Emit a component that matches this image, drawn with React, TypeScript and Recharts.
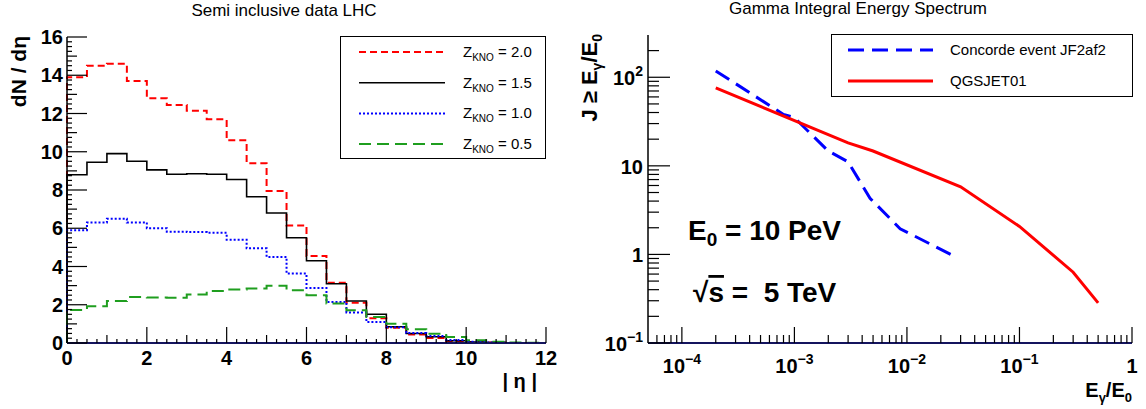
import React from 'react';
import { LineChart, Line, XAxis, YAxis, Legend } from 'recharts';

// left panel: |eta| bins (low edges, width 0.5)
const ETA_BINS = [0, 0.5, 1, 1.5, 2, 2.5, 3, 3.5, 4, 4.5, 5, 5.5, 6, 6.5, 7, 7.5, 8, 8.5, 9, 9.5, 10, 10.5, 11, 11.5];
const Z20 = [13.9, 14.5, 14.6, 13.7, 12.8, 12.45, 12.15, 11.7, 10.6, 9.4, 7.95, 6.15, 4.55, 3.15, 2.1, 1.3, 0.8, 0.45, 0.26, 0.11, 0.05, 0.02, 0, 0];
const Z15 = [8.8, 9.45, 9.9, 9.5, 9.05, 8.82, 8.85, 8.82, 8.55, 7.65, 6.8, 5.5, 4.3, 3.1, 2.2, 1.5, 0.85, 0.5, 0.33, 0.12, 0.05, 0.02, 0, 0];
const Z10 = [5.9, 6.3, 6.5, 6.3, 6.0, 5.82, 5.8, 5.76, 5.4, 4.95, 4.5, 3.63, 2.88, 2.15, 1.6, 1.1, 0.82, 0.52, 0.37, 0.16, 0.06, 0.03, 0, 0];
const Z05 = [1.72, 1.92, 2.2, 2.4, 2.38, 2.37, 2.53, 2.72, 2.8, 2.85, 3.0, 2.76, 2.5, 2.06, 1.71, 1.36, 1.01, 0.72, 0.49, 0.31, 0.15, 0.07, 0.02, 0.01];

// right panel: integral spectra
const CONCORDE_E = [2e-4, 8e-4, 1e-3, 2e-3, 3e-3, 4.7e-3, 8.7e-3, 2.45e-2];
const CONCORDE_J = [118, 38, 35, 14.7, 11.1, 4.3, 1.95, 1.0];
const QGS_E = [2e-4, 3e-3, 5e-3, 3e-2, 0.1, 0.3, 0.5];
const QGS_J = [76, 18.2, 14.7, 5.8, 2.07, 0.63, 0.284];

const HIST = [
  { key: 'z20', label: '2.0', color: '#ff0000', dash: '7 4', width: 2 },
  { key: 'z15', label: '1.5', color: '#000000', dash: undefined, width: 1.6 },
  { key: 'z10', label: '1.0', color: '#0000ff', dash: '2 2', width: 2 },
  { key: 'z05', label: '0.5', color: '#1f9e1f', dash: '12 6', width: 2 },
];

const FONT = '"Liberation Sans", Arial, Helvetica, sans-serif';
const TICK_FONT = { fontFamily: FONT, fontWeight: 700, fontSize: 20, fill: '#000' } as const;

// step rows: start at 0, one row per bin, close at 12
const last = ETA_BINS.length - 1;
const histRows = [
  { eta: 0, z20: 0, z15: 0, z10: 0, z05: 0 },
  ...ETA_BINS.map((eta, i) => ({ eta, z20: Z20[i], z15: Z15[i], z10: Z10[i], z05: Z05[i] })),
  { eta: 12, z20: Z20[last], z15: Z15[last], z10: Z10[last], z05: Z05[last] },
];
const concordeRows = CONCORDE_E.map((e, i) => ({ e, j: CONCORDE_J[i] }));
const qgsRows = QGS_E.map((e, i) => ({ e, j: QGS_J[i] }));

const ETA_TICKS = Array.from({ length: 49 }, (_, i) => i * 0.25);
const DN_TICKS = Array.from({ length: 65 }, (_, i) => i * 0.25);

const logTicks = (lo: number, hi: number) => {
  const out: number[] = [];
  for (let e = lo; e < hi; e++) for (let m = 1; m < 10; m++) out.push(m * Math.pow(10, e));
  out.push(Math.pow(10, hi));
  return out;
};
const E_TICKS = logTicks(-5, 0).filter(v => v > 5.01e-5);
const J_TICKS = logTicks(-1, 3).filter(v => v < 250);

const expOf = (v: number) => Math.round(Math.log10(v));
const isDecade = (v: number) => Math.abs(v / Math.pow(10, expOf(v)) - 1) < 1e-6;
const near = (v: number, step: number) => Math.abs(v / step - Math.round(v / step)) < 1e-6;

// tick marks as thin filled rects pointing into the frame
const VMark = ({ x, y, len }: any) => <rect x={x - 0.6} y={y - len} width={1.2} height={len} fill="#000" />;
const HMark = ({ x, y, len }: any) => <rect x={x} y={y - 0.6} width={len} height={1.2} fill="#000" />;

const EtaTick = ({ x, y, payload }: any) => {
  const v = payload.value;
  const len = near(v, 2) ? 16 : near(v, 1) ? 8 : 4;
  return (
    <g>
      <VMark x={x} y={y} len={len} />
      {near(v, 2) && <text x={x} y={y + 22} textAnchor="middle" style={TICK_FONT}>{v}</text>}
    </g>
  );
};

const DnTick = ({ x, y, payload }: any) => {
  const v = payload.value;
  const len = near(v, 2) ? 20 : near(v, 1) ? 10 : 5;
  return (
    <g>
      <HMark x={x} y={y} len={len} />
      {near(v, 2) && <text x={x - 4} y={y + 7} textAnchor="end" style={TICK_FONT}>{v}</text>}
    </g>
  );
};

const powLabel = (e: number) =>
  e === 0 ? '1' : e === 1 ? '10' : (
    <>
      10<tspan dy={-9} fontSize={14}>{e < 0 ? `\u2212${-e}` : e}</tspan>
    </>
  );

const ETick = ({ x, y, payload }: any) => {
  const v = payload.value;
  const major = isDecade(v);
  return (
    <g>
      <VMark x={x} y={y} len={major ? 16 : 8} />
      {major && <text x={x} y={y + 30} textAnchor="middle" style={TICK_FONT}>{powLabel(expOf(v))}</text>}
    </g>
  );
};

const JTick = ({ x, y, payload }: any) => {
  const v = payload.value;
  const major = isDecade(v);
  return (
    <g>
      <HMark x={x} y={y} len={major ? 22 : 11} />
      {major && <text x={x - 5} y={y + 8} textAnchor="end" style={TICK_FONT}>{powLabel(expOf(v))}</text>}
    </g>
  );
};

const HistLegend = () => (
  <svg width={206} height={123} style={{ display: 'block' }}>
    <rect x={0.5} y={0.5} width={205} height={122} fill="#fff" stroke="#000" />
    {HIST.map((h, i) => {
      const cy = 16 + i * 30.7;
      return (
        <g key={h.key}>
          <line x1={19} x2={105} y1={cy} y2={cy} stroke={h.color} strokeWidth={h.width} strokeDasharray={h.dash} />
          <text x={123} y={cy + 5} style={{ fontFamily: FONT, fontSize: 15, whiteSpace: 'pre' }}>
            Z<tspan dy={4} fontSize={10}>KNO</tspan><tspan dy={-4}>{` = ${h.label}`}</tspan>
          </text>
        </g>
      );
    })}
  </svg>
);

const SpectrumLegend = () => (
  <svg width={302} height={63} style={{ display: 'block' }}>
    <rect x={0.5} y={0.5} width={301} height={62} fill="#fff" stroke="#000" />
    <line x1={17} x2={102} y1={16} y2={16} stroke="#0000ff" strokeWidth={3} strokeDasharray="16 8" />
    <text x={119} y={21} style={{ fontFamily: FONT, fontSize: 15 }}>Concorde event JF2af2</text>
    <line x1={17} x2={102} y1={47} y2={47} stroke="#ff0000" strokeWidth={3} />
    <text x={119} y={52} style={{ fontFamily: FONT, fontSize: 15 }}>QGSJET01</text>
  </svg>
);

export default function App() {
  return (
    <div style={{ position: 'absolute', left: 0, top: 0, width: 1146, height: 409, background: '#fff' }}>
      {/* titles and annotations, underneath the charts */}
      <svg width={1146} height={409} style={{ position: 'absolute', left: 0, top: 0, pointerEvents: 'none', fontFamily: FONT }}>
        <text x={284} y={16} textAnchor="middle" fontSize={17}>Semi inclusive data LHC</text>
        <text x={858} y={14} textAnchor="middle" fontSize={17}>Gamma Integral Energy Spectrum</text>
        <text x={26} y={36} textAnchor="end" fontSize={21} fontWeight={700} transform="rotate(-90, 26, 36)">dN / d&#951;</text>
        <text x={537} y={388} textAnchor="end" fontSize={20} fontWeight={700} style={{ whiteSpace: 'pre' }}>| &#951; |</text>
        <text x={597} y={34} textAnchor="end" fontSize={22} fontWeight={700} transform="rotate(-90, 597, 34)" style={{ whiteSpace: 'pre' }}>
          J &#8805; E<tspan dy={5} fontSize={14}>&#947;</tspan><tspan dy={-5}>/E</tspan><tspan dy={5} fontSize={14}>0</tspan>
        </text>
        <text x={1132} y={397} textAnchor="end" fontSize={20} fontWeight={700}>
          E<tspan dy={5} fontSize={13}>&#947;</tspan><tspan dy={-5}>/E</tspan><tspan dy={5} fontSize={13}>0</tspan>
        </text>
        <text x={688} y={240} fontSize={28} fontWeight={700} style={{ whiteSpace: 'pre' }}>
          E<tspan dy={6} fontSize={19}>0</tspan><tspan dy={-6}> = 10 PeV</tspan>
        </text>
        <text x={693} y={302} fontSize={28} fontWeight={700} style={{ whiteSpace: 'pre' }}>
          &#8730;<tspan textDecoration="overline">s</tspan>{' =  5 TeV'}
        </text>
      </svg>

      <div style={{ position: 'absolute', left: 0, top: 0 }}>
        <LineChart width={570} height={409} data={histRows} margin={{ top: 37, right: 24, left: 27, bottom: 0 }}>
          <XAxis
            dataKey="eta"
            type="number"
            domain={[0, 12]}
            ticks={ETA_TICKS}
            interval={0}
            tickSize={0}
            tickMargin={0}
            tickLine={false}
            tick={EtaTick}
            height={66}
            axisLine={{ stroke: '#14145e', strokeWidth: 2 }}
          />
          <XAxis xAxisId="top" orientation="top" dataKey="eta" type="number" domain={[0, 12]} height={0} tick={false} tickLine={false} axisLine={{ stroke: '#000', strokeWidth: 1.5 }} />
          <YAxis
            type="number"
            domain={[0, 16]}
            ticks={DN_TICKS}
            interval={0}
            tickSize={0}
            tickMargin={0}
            tickLine={false}
            tick={DnTick}
            width={40}
            axisLine={{ stroke: '#000', strokeWidth: 1.5 }}
          />
          <YAxis yAxisId="right" orientation="right" domain={[0, 16]} width={0} tick={false} tickLine={false} axisLine={{ stroke: '#000', strokeWidth: 2 }} />
          {HIST.map(h => (
            <Line
              key={h.key}
              type="stepAfter"
              dataKey={h.key}
              stroke={h.color}
              strokeWidth={h.width}
              strokeDasharray={h.dash}
              dot={false}
              activeDot={false}
              isAnimationActive={false}
            />
          ))}
          <Legend
            layout="vertical"
            align="center"
            verticalAlign="middle"
            content={() => <HistLegend />}
            wrapperStyle={{ left: 340, top: 36, width: 206, height: 123 }}
          />
        </LineChart>
      </div>

      <div style={{ position: 'absolute', left: 570, top: 0 }}>
        <LineChart width={576} height={409} margin={{ top: 35, right: 14, left: 38, bottom: 0 }}>
          <XAxis
            dataKey="e"
            type="number"
            scale="log"
            domain={[5e-5, 1]}
            allowDataOverflow
            ticks={E_TICKS}
            interval={0}
            tickSize={0}
            tickMargin={0}
            tickLine={false}
            tick={ETick}
            height={66}
            axisLine={{ stroke: '#14145e', strokeWidth: 2 }}
          />
          <XAxis xAxisId="top" orientation="top" dataKey="e" type="number" scale="log" domain={[5e-5, 1]} allowDataOverflow height={0} tick={false} tickLine={false} axisLine={{ stroke: '#000', strokeWidth: 1.5 }} />
          <YAxis
            dataKey="j"
            type="number"
            scale="log"
            domain={[0.1, 300]}
            allowDataOverflow
            ticks={J_TICKS}
            interval={0}
            tickSize={0}
            tickMargin={0}
            tickLine={false}
            tick={JTick}
            width={40}
            axisLine={{ stroke: '#000', strokeWidth: 1.5 }}
          />
          <YAxis yAxisId="right" orientation="right" scale="log" domain={[0.1, 300]} allowDataOverflow width={0} tick={false} tickLine={false} axisLine={{ stroke: '#000', strokeWidth: 2 }} />
          <Line data={concordeRows} type="linear" dataKey="j" stroke="#0000ff" strokeWidth={3} strokeDasharray="16 8" dot={false} activeDot={false} isAnimationActive={false} />
          <Line data={qgsRows} type="linear" dataKey="j" stroke="#ff0000" strokeWidth={3} dot={false} activeDot={false} isAnimationActive={false} />
          <Legend
            layout="vertical"
            align="center"
            verticalAlign="middle"
            content={() => <SpectrumLegend />}
            wrapperStyle={{ left: 261, top: 34, width: 302, height: 63 }}
          />
        </LineChart>
      </div>
    </div>
  );
}
